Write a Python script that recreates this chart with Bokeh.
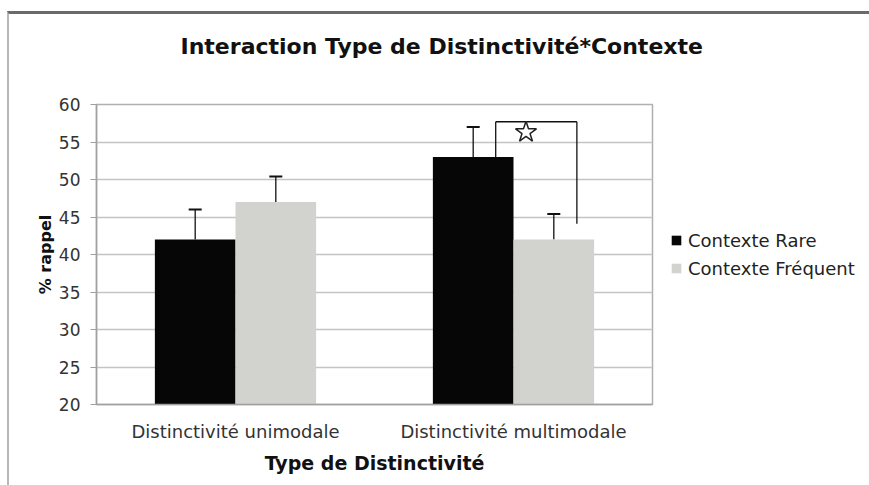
from bokeh.plotting import figure
from bokeh.models import (ColumnDataSource, FactorRange, Range1d, FixedTicker, Whisker,
                          TeeHead, Legend, LegendItem, Title)
from bokeh.transform import dodge
from bokeh.embed import file_html
from bokeh.resources import INLINE

# ---- data ----
categories = ["Distinctivité unimodale", "Distinctivité multimodale"]
series_names = ["Contexte Rare", "Contexte Fréquent"]
rare_values = [42, 53]
frequent_values = [47, 42]
rare_errors = [4, 4]
frequent_errors = [3.4, 3.4]
y_ticks = [20, 25, 30, 35, 40, 45, 50, 55, 60]
title_text = "Interaction Type de Distinctivité*Contexte"
x_label = "Type de Distinctivité"
y_label = "% rappel"
# significance bracket (multimodale: Rare vs Fréquent)
bracket_category = ["Distinctivité multimodale"]
bracket_top = [57.7]
bracket_left_bottom = [53]
bracket_right_bottom = [44.1]
star_y = [56.3]

FONT = "DejaVu Sans"
BLACK = "#060606"
GRAY = "#d2d2cf"

p = figure(x_range=FactorRange(*categories), y_range=Range1d(20, 60), title=None,
           frame_width=556, frame_height=300, output_backend="svg", toolbar_location=None,
           min_border_left=87, min_border_right=217, min_border_top=90, min_border_bottom=81)
p.styles = {"border-top": "3px solid #6a6a6a", "border-left": "2px solid #b8b8b8",
            "margin-top": "11px", "margin-left": "7px"}

src = ColumnDataSource(dict(cat=categories, rare=rare_values, freq=frequent_values,
                            rare_up=[v + e for v, e in zip(rare_values, rare_errors)],
                            freq_up=[v + e for v, e in zip(frequent_values, frequent_errors)]))

off = 0.145
bw = 0.29
r1 = p.vbar(x=dodge("cat", -off, range=p.x_range), top="rare", bottom=20, width=bw,
            source=src, fill_color=BLACK, line_color=None)
r2 = p.vbar(x=dodge("cat", off, range=p.x_range), top="freq", bottom=20, width=bw,
            source=src, fill_color=GRAY, line_color=None)

for col_base, col_up, o in (("rare", "rare_up", -off), ("freq", "freq_up", off)):
    w = Whisker(source=src, base=dodge("cat", o, range=p.x_range), lower=col_base, upper=col_up,
                line_color="#111111", line_width=1.3,
                upper_head=TeeHead(size=13, line_color="#111111", line_width=2),
                lower_head=None)
    p.add_layout(w)

# bracket
bsrc = ColumnDataSource(dict(cat=bracket_category, top=bracket_top, lb=bracket_left_bottom,
                             rb=bracket_right_bottom, sy=star_y))
lx, rx = -0.064, 0.228
p.segment(x0=dodge("cat", lx, range=p.x_range), x1=dodge("cat", lx, range=p.x_range),
          y0="lb", y1="top", source=bsrc, line_color="#111111", line_width=1.3)
p.segment(x0=dodge("cat", lx, range=p.x_range), x1=dodge("cat", rx, range=p.x_range),
          y0="top", y1="top", source=bsrc, line_color="#111111", line_width=1.3)
p.segment(x0=dodge("cat", rx, range=p.x_range), x1=dodge("cat", rx, range=p.x_range),
          y0="top", y1="rb", source=bsrc, line_color="#111111", line_width=1.3)
p.scatter(x=dodge("cat", 0.045, range=p.x_range), y="sy", source=bsrc, marker="star",
          size=22, fill_color="white", line_color="#222222", line_width=1.5)

# title: a blank spacer panel next to the frame, then the real title above it
p.add_layout(Title(text=" ", text_font_size="2px", standoff=40), "above")
p.add_layout(Title(text=title_text, align="left", vertical_align="top", text_font=FONT,
                   text_font_size="22px", text_font_style="bold", text_color="#111111",
                   standoff=0, offset=84), "above")

# axes
p.yaxis.ticker = FixedTicker(ticks=y_ticks)
p.yaxis.axis_label = y_label
p.yaxis.axis_label_text_font = FONT
p.yaxis.axis_label_text_font_size = "16px"
p.yaxis.axis_label_text_font_style = "bold"
p.yaxis.axis_label_text_color = "#111111"
p.yaxis.axis_label_standoff = 1
p.yaxis.major_label_text_font = FONT
p.yaxis.major_label_text_font_size = "17px"
p.yaxis.major_label_text_color = "#333333"
p.yaxis.major_label_standoff = 10
p.yaxis.major_tick_in = 0
p.yaxis.major_tick_out = 6
p.yaxis.minor_tick_line_color = None
p.yaxis.major_tick_line_color = "#a0a0a0"
p.yaxis.axis_line_color = "#a0a0a0"
p.yaxis.axis_line_width = 1.5

p.xaxis.axis_label = x_label
p.xaxis.axis_label_text_font = FONT
p.xaxis.axis_label_text_font_size = "19px"
p.xaxis.axis_label_text_font_style = "bold"
p.xaxis.axis_label_text_color = "#111111"
p.xaxis.axis_label_standoff = 7
p.xaxis.major_label_text_font = FONT
p.xaxis.major_label_text_font_size = "18px"
p.xaxis.major_label_text_color = "#333333"
p.xaxis.major_label_standoff = 10
p.xaxis.major_tick_line_color = None
p.xaxis.axis_line_color = "#a0a0a0"
p.xaxis.axis_line_width = 1.5

p.xgrid.grid_line_color = None
p.ygrid.grid_line_color = "#c4c4c4"
p.ygrid.grid_line_width = 1.5
p.outline_line_color = "#b0b0b0"
p.outline_line_width = 1.5
p.background_fill_color = "white"
p.border_fill_color = "white"

legend = Legend(items=[LegendItem(label=series_names[0], renderers=[r1]),
                       LegendItem(label=series_names[1], renderers=[r2])],
                location="center_left", padding=0, margin=18, spacing=6, label_height=22,
                glyph_width=12, glyph_height=12, label_standoff=6,
                label_text_font=FONT, label_text_font_size="18px", label_text_color="#222222",
                border_line_color=None, background_fill_alpha=0)
p.add_layout(legend, "right")

open("out.html", "w").write(file_html(p, INLINE))
